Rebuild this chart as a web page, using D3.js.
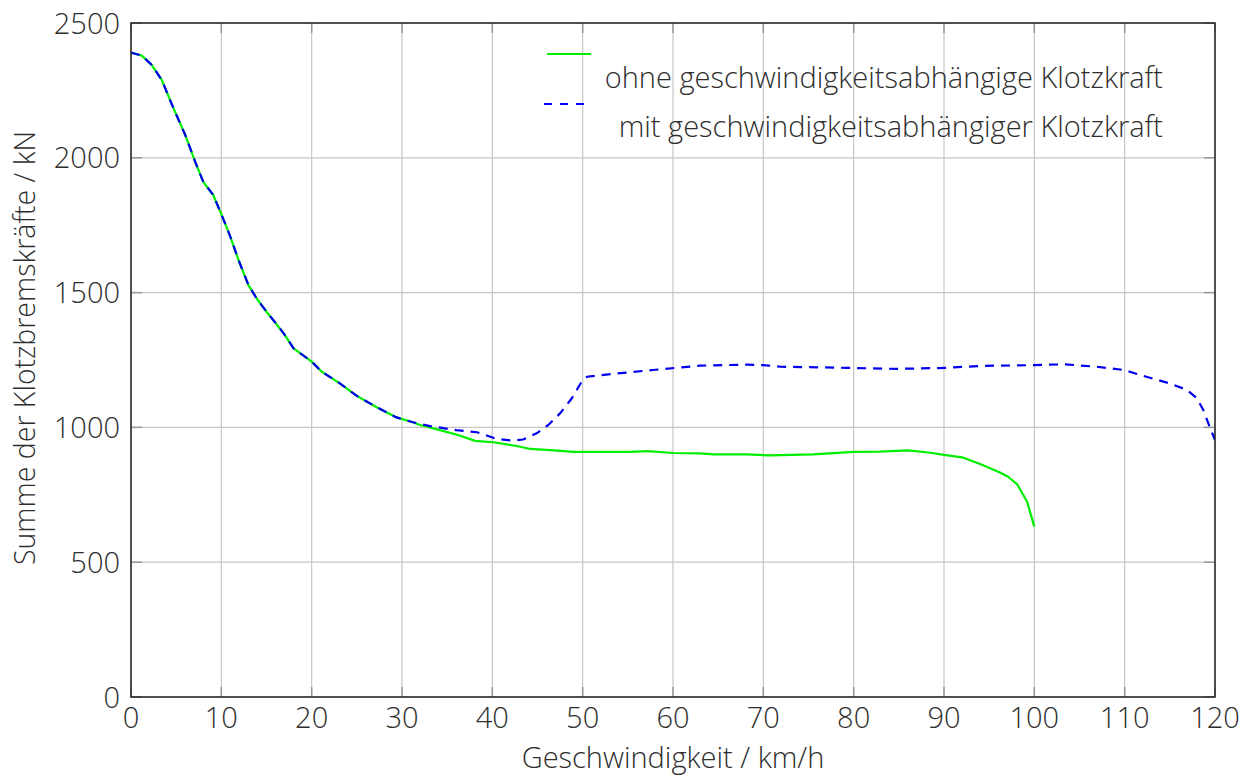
<!DOCTYPE html>
<html>
<head>
<meta charset="utf-8">
<script src="https://cdn.jsdelivr.net/npm/d3@7"></script>
<style>
  html, body { margin: 0; padding: 0; background: #fff; }
  svg text { font-family: "Open Sans", "Noto Sans", sans-serif; font-weight: 300; fill: #2e2e2e; }
</style>
</head>
<body>
<svg id="chart" width="1256" height="776"></svg>
<script>
// Speed in km/h and summed brake-block forces in kN
const speedOhne = [0, 1.2, 2.3, 3.4, 4.7, 6.0, 7.1, 8.0, 9.1, 10.0, 11.0, 11.9, 13.0, 13.9, 15.0, 15.9, 16.9, 18.0, 20.0, 21.1, 23.0, 25.0, 27.2, 29.4, 31.1, 32.0, 34.2, 36.2, 38.1, 40.1, 42.7, 44.2, 46.4, 49.0, 55.2, 57.2, 60.0, 63.0, 64.5, 68.2, 70.7, 75.5, 80.0, 82.9, 86.0, 88.5, 90.0, 92.0, 94.0, 96.2, 97.1, 98.1, 99.2, 100.0];
const forceOhne = [2390, 2379, 2344, 2289, 2184, 2085, 1986, 1911, 1862, 1791, 1707, 1621, 1528, 1479, 1429, 1392, 1349, 1293, 1244, 1207, 1166, 1117, 1075, 1037, 1020, 1009, 990, 972, 950, 945, 931, 920, 916, 909, 909, 912, 905, 904, 900, 900, 896, 900, 909, 910, 915, 906, 898, 889, 864, 833, 817, 789, 724, 632];

const speedMit = [0, 1.2, 2.3, 3.4, 4.7, 6.0, 7.1, 8.0, 9.1, 10.0, 11.0, 11.9, 13.0, 13.9, 15.0, 15.9, 16.9, 18.0, 20.0, 21.1, 23.0, 25.0, 27.2, 29.4, 31.1, 33.1, 36.0, 38.3, 40.5, 42.3, 43.4, 44.9, 46.2, 47.5, 48.8, 49.9, 50.5, 53.8, 57.8, 60.4, 63.0, 68.2, 70.0, 71.9, 79.2, 84.8, 90.3, 94.0, 99.9, 103.4, 106.9, 109.9, 112.4, 115.0, 116.9, 118.0, 118.7, 119.4, 120.0];
const forceMit = [2390, 2379, 2344, 2289, 2184, 2085, 1986, 1911, 1862, 1791, 1707, 1621, 1528, 1479, 1429, 1392, 1349, 1293, 1244, 1207, 1166, 1117, 1075, 1037, 1020, 1005, 990, 982, 957, 951, 955, 978, 1009, 1052, 1108, 1170, 1188, 1200, 1213, 1221, 1229, 1233, 1231, 1225, 1221, 1217, 1221, 1228, 1231, 1234, 1225, 1213, 1188, 1163, 1139, 1108, 1065, 1003, 953];

const xTicks = [0, 10, 20, 30, 40, 50, 60, 70, 80, 90, 100, 110, 120];
const yTicks = [0, 500, 1000, 1500, 2000, 2500];
const legendLabels = ["ohne geschwindigkeitsabhängige Klotzkraft", "mit geschwindigkeitsabhängiger Klotzkraft"];
const xTitle = "Geschwindigkeit / km/h";
const yTitle = "Summe der Klotzbremskräfte / kN";

const svg = d3.select("#chart");
const plotL = 131, plotR = 1215, plotT = 23, plotB = 697;

const x = d3.scaleLinear().domain([0, 120]).range([plotL, plotR]);
const y = d3.scaleLinear().domain([0, 2500]).range([plotB, plotT]);

// grid
const grid = svg.append("g").attr("stroke", "#c6c6c6").attr("stroke-width", 1.2);
grid.selectAll(".vx").data(xTicks).join("line")
  .attr("x1", d => x(d)).attr("x2", d => x(d)).attr("y1", plotT).attr("y2", plotB);
grid.selectAll(".hy").data(yTicks).join("line")
  .attr("x1", plotL).attr("x2", plotR).attr("y1", d => y(d)).attr("y2", d => y(d));

// inner tick marks on all four sides
const ticks = svg.append("g").attr("stroke", "#999").attr("stroke-width", 1.5);
ticks.selectAll(".tb").data(xTicks).join("line")
  .attr("x1", d => x(d)).attr("x2", d => x(d)).attr("y1", plotB).attr("y2", plotB - 10);
ticks.selectAll(".tt").data(xTicks).join("line")
  .attr("x1", d => x(d)).attr("x2", d => x(d)).attr("y1", plotT).attr("y2", plotT + 10);
ticks.selectAll(".tl").data(yTicks).join("line")
  .attr("x1", plotL).attr("x2", plotL + 11).attr("y1", d => y(d)).attr("y2", d => y(d));
ticks.selectAll(".tr").data(yTicks).join("line")
  .attr("x1", plotR).attr("x2", plotR - 11).attr("y1", d => y(d)).attr("y2", d => y(d));

// tick labels
svg.append("g").selectAll("text").data(xTicks).join("text")
  .attr("x", d => x(d)).attr("y", plotB + 31)
  .attr("text-anchor", "middle").attr("font-size", 29)
  .text(d => d);
svg.append("g").selectAll("text").data(yTicks).join("text")
  .attr("x", plotL - 11).attr("y", d => y(d) + 10.5)
  .attr("text-anchor", "end").attr("font-size", 29)
  .text(d => d);

// axis titles
svg.append("text").attr("x", (plotL + plotR) / 2).attr("y", 768)
  .attr("text-anchor", "middle").attr("font-size", 29).text(xTitle);
svg.append("text").attr("transform", "translate(35,348) rotate(-90)")
  .attr("text-anchor", "middle").attr("font-size", 28.5).text(yTitle);

// curves
svg.append("clipPath").attr("id", "plotclip").append("rect")
  .attr("x", plotL).attr("y", plotT).attr("width", plotR - plotL).attr("height", plotB - plotT);

const line = d3.line().x(d => x(d[0])).y(d => y(d[1])).curve(d3.curveLinear);
const ohne = speedOhne.map((s, i) => [s, forceOhne[i]]);
const mit = speedMit.map((s, i) => [s, forceMit[i]]);

svg.append("path").datum(ohne).attr("d", line)
  .attr("clip-path", "url(#plotclip)")
  .attr("fill", "none").attr("stroke", "#00ee00").attr("stroke-width", 2.2)
  .attr("stroke-linejoin", "round");
svg.append("path").datum(mit).attr("d", line)
  .attr("clip-path", "url(#plotclip)")
  .attr("fill", "none").attr("stroke", "#0000ee").attr("stroke-width", 2.2)
  .attr("stroke-dasharray", "9,7");

// frame
svg.append("rect").attr("x", plotL).attr("y", plotT).attr("width", plotR - plotL).attr("height", plotB - plotT)
  .attr("fill", "none").attr("stroke", "#222").attr("stroke-width", 1.5);

// legend
const lg = svg.append("g");
lg.append("line").attr("x1", 547).attr("x2", 591).attr("y1", 54).attr("y2", 54)
  .attr("stroke", "#00ee00").attr("stroke-width", 2.2);
lg.append("line").attr("x1", 544).attr("x2", 591).attr("y1", 104).attr("y2", 104)
  .attr("stroke", "#0000ee").attr("stroke-width", 2.2).attr("stroke-dasharray", "8,8");
lg.selectAll("text").data(legendLabels).join("text")
  .attr("x", 1163).attr("y", (d, i) => 88 + i * 49)
  .attr("text-anchor", "end").attr("font-size", 29)
  .text(d => d);
</script>
</body>
</html>
